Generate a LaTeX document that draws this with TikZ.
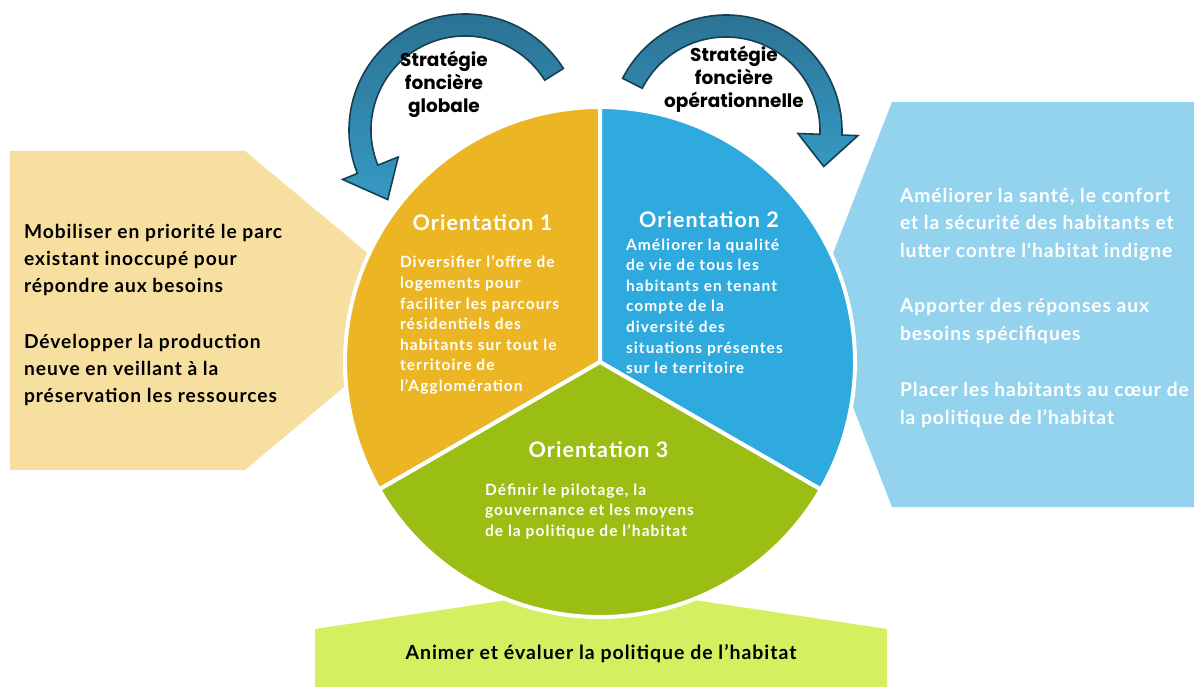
\documentclass[tikz,border=0pt]{standalone}
\usepackage{fontspec}
\setmainfont{Lato}
\newfontfamily\widefont{Lato}[LetterSpace=5]
\newfontfamily\widerfont{Lato}[LetterSpace=7]
\newfontfamily\labelfont{Poppins}
\usetikzlibrary{positioning}
\definecolor{orientA}{HTML}{EBB523}
\definecolor{orientB}{HTML}{2EAADF}
\definecolor{orientC}{HTML}{9BBE15}
\definecolor{panelA}{HTML}{F7DF9F}
\definecolor{panelB}{HTML}{94D3EE}
\definecolor{panelC}{HTML}{D4F060}
\definecolor{arrowtop}{HTML}{2A6F8F}
\definecolor{arrowbot}{HTML}{3699C3}
\definecolor{arrowline}{HTML}{173F52}
\tikzset{
  x=1pt, y=1pt,
  every node/.style={inner sep=0pt, outer sep=0pt},
  wedge/.style={draw=white, line width=4pt, line join=round},
  arrowbody/.style={top color=arrowtop, bottom color=arrowbot, draw=arrowline, line width=1.6pt},
  paneltext/.style={font=\widefont\bfseries\fontsize{19.2}{27}\selectfont, align=left, anchor=north west},
  orienthead/.style={font=\widefont\bfseries\fontsize{21.5}{26}\selectfont, text=white, anchor=base},
  orientbody/.style={font=\widerfont\bfseries\fontsize{15.5}{20.6}\selectfont, text=white, align=left, anchor=north west},
  arrowlabel/.style={font=\labelfont\bfseries\fontsize{18.5}{23}\selectfont, align=center, anchor=north},
}
\newcommand{\ringarrow}[5]{%
  \begin{scope}[xshift=#1, yshift=#2]
    % Band, head, band back to the tail
    \draw[arrowbody] (#3:116pt) arc[start angle=#3, end angle=#4, radius=116pt]
      -- (#4:132pt) -- (#5:104pt) -- (#4:72pt) -- (#4:94pt)
      arc[start angle=#4, end angle=#3, radius=94pt] -- cycle;
  \end{scope}
}

\begin{document}
\begin{tikzpicture}
\useasboundingbox (0,0) rectangle (1194,686);
\clip (0,0) rectangle (1194,686);

% Side panels
\fill[panelA] (10,535) -- (245,535) -- (436,376) -- (245,216) -- (10,216) -- cycle;
\fill[panelB] (892,584) -- (1200,584) -- (1200,179) -- (892,179) -- (813,381.5) -- cycle;
\fill[panelC] (315,-5) -- (315,57) -- (601,100) -- (887,57) -- (887,-5) -- cycle;

% Circle in three parts
\coordinate (centre) at (600,324);
\fill[orientA, wedge] (centre) -- +(90:255pt) arc[start angle=90, end angle=210, radius=255pt] -- cycle;
\fill[orientB, wedge] (centre) -- +(90:255pt) arc[start angle=90, end angle=-30, radius=255pt] -- cycle;
\fill[orientC, wedge] (centre) -- +(210:255pt) arc[start angle=210, end angle=330, radius=255pt] -- cycle;

% Curved arrows
\ringarrow{465pt}{556pt}{32}{202}{222}
\ringarrow{726pt}{555pt}{153}{-2}{-20}

\node[arrowlabel] (globale) at (444,635) {Stratégie\\foncière\\globale};
\node[arrowlabel] (operationnelle) at (734,640) {Stratégie\\foncière\\opérationnelle};

% Orientations
\node[orienthead] (head1) at (482.5,455) {Orientation 1};
\node[orientbody] (body1) at (400,430) {Diversifier l’offre de\\logements pour\\faciliter les parcours\\résidentiels des\\habitants sur tout le\\territoire de\\l’Agglomération};

\node[orienthead] (head2) at (709,458) {Orientation 2};
\node[orientbody] (body2) at (626,447.5) {Améliorer la qualité\\de vie de tous les\\habitants en tenant\\compte de la\\diversité des\\situations présentes\\sur le territoire};

\node[orienthead] (head3) at (598.5,229) {Orientation 3};
\node[orientbody] (body3) at (485,202.5) {Définir le pilotage, la\\gouvernance et les moyens\\de la politique de l’habitat};

% Panel texts
\node[paneltext] (leftpanel) at (24,462) {Mobiliser en priorité le parc\\existant inoccupé pour\\répondre aux besoins\\[29pt]Développer la production\\neuve en veillant à la\\préservation les ressources};
\node[paneltext, text=white, font=\widefont\bfseries\fontsize{19.2}{27.5}\selectfont] (rightpanel) at (900,498) {Améliorer la santé, le confort\\et la sécurité des habitants et\\lutter contre l\char"0027habitat indigne\\[28pt]Apporter des réponses aux\\besoins spécifiques\\[29pt]Placer les habitants au cœur de\\la politique de l’habitat};
\node[font=\widefont\bfseries\fontsize{19.5}{22}\selectfont, anchor=base] (bottompanel) at (601,27) {Animer et évaluer la politique de l’habitat};

\end{tikzpicture}
\end{document}
